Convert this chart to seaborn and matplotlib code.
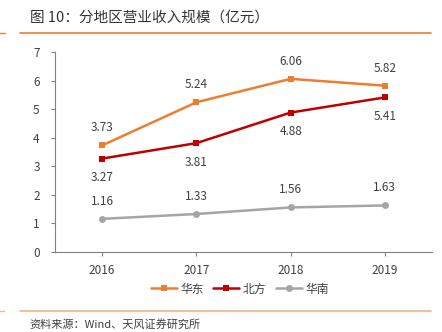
import matplotlib
matplotlib.use("Agg")
import matplotlib.pyplot as plt
import seaborn as sns
import pandas as pd
from matplotlib.lines import Line2D

years = ["2016", "2017", "2018", "2019"]
east = [3.73, 5.24, 6.06, 5.82]
north = [3.27, 3.81, 4.88, 5.41]
south = [1.16, 1.33, 1.56, 1.63]
series_names = ["华东", "北方", "华南"]
colors = ["#ED7D31", "#C00000", "#A5A5A5"]
markers = ["s", "s", "o"]
yticks = [0, 1, 2, 3, 4, 5, 6, 7]

sns.set_theme(style="white")
plt.rcParams["font.family"] = ["Noto Sans CJK SC", "DejaVu Sans"]

df = pd.DataFrame({
    "year": years * 3,
    "x": list(range(len(years))) * 3,
    "value": east + north + south,
    "region": [series_names[0]] * 4 + [series_names[1]] * 4 + [series_names[2]] * 4,
})

fig = plt.figure(figsize=(4.42, 3.32), dpi=100)
ax = fig.add_axes([55 / 442, 1 - 252 / 332, (432 - 55) / 442, 200 / 332])

sns.lineplot(data=df, x="x", y="value", hue="region", style="region",
             palette=dict(zip(series_names, colors)),
             markers=dict(zip(series_names, markers)), dashes=False,
             markersize=5, linewidth=1.8, markeredgewidth=0, ax=ax, legend=False)

txt = "#404040"
for vals, pos in [(east, "above"), (north, "below"), (south, "above")]:
    for i, v in enumerate(vals):
        if pos == "above":
            ax.annotate(f"{v:.2f}", (i, v), xytext=(0, 8), textcoords="offset points",
                        ha="center", va="bottom", fontsize=8.5, color=txt)
        else:
            ax.annotate(f"{v:.2f}", (i, v), xytext=(0, -9), textcoords="offset points",
                        ha="center", va="top", fontsize=8.5, color=txt)

ax.set_xlim(-0.5, len(years) - 0.5)
ax.set_ylim(0, 7)
ax.set_xticks(range(len(years)))
ax.set_xticklabels(years)
ax.set_yticks(yticks)
ax.set_xlabel("")
ax.set_ylabel("")
ax.tick_params(axis="both", labelsize=8.5, colors=txt, length=3, width=0.8, direction="out")
ax.tick_params(axis="x", color="#808080", pad=6)
ax.tick_params(axis="y", color="#808080", pad=8)
ax.xaxis.set_ticks_position("bottom")
ax.yaxis.set_ticks_position("left")
for s in ["top", "right"]:
    ax.spines[s].set_visible(False)
for s in ["left", "bottom"]:
    ax.spines[s].set_color("#808080")
    ax.spines[s].set_linewidth(0.8)

handles = [Line2D([0], [0], color=c, marker=m, markersize=5, linewidth=1.8, markeredgewidth=0)
           for c, m in zip(colors, markers)]
fig.legend(handles, series_names, loc="center", bbox_to_anchor=(240 / 442, 1 - 289 / 332),
           ncol=3, frameon=False, fontsize=8.5, handlelength=2.2, handletextpad=0.3,
           columnspacing=0.8, labelcolor=txt)

fig.text(30 / 442, 1 - 18 / 332, "图 10：分地区营业收入规模（亿元）", fontsize=10.5,
         color="#333333", fontweight="normal", va="center", ha="left")
fig.add_artist(Line2D([20 / 442, 431 / 442], [1 - 33 / 332] * 2, color="#ED7D31", linewidth=1.2))
fig.add_artist(Line2D([20 / 442, 431 / 442], [1 - 311 / 332] * 2, color="#F4B183", linewidth=1.2))
fig.add_artist(Line2D([0, 5 / 442], [1 - 33 / 332] * 2, color="#ED7D31", linewidth=1.0))
fig.add_artist(Line2D([0, 4 / 442], [1 - 311 / 332] * 2, color="#F4B183", linewidth=1.0))
fig.text(29 / 442, 1 - 324 / 332, "资料来源：Wind、天风证券研究所", fontsize=8,
         color="#404040", va="center", ha="left")

fig.savefig("out.png", dpi=100)
